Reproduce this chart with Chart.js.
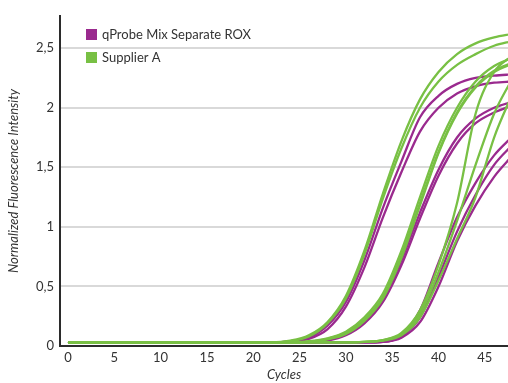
<!DOCTYPE html>
<html>
<head>
<meta charset="utf-8">
<script src="https://cdn.jsdelivr.net/npm/chart.js@4"></script>
<style>
  html, body { margin: 0; padding: 0; background: #fff; }
  #wrap { width: 508px; height: 383px; position: relative; }
</style>
</head>
<body>
<div id="wrap"><canvas id="amp-chart"></canvas></div>
<script>
const cycles = [0, 10, 20, 22, 24, 26, 28, 30, 32, 34, 36, 38, 40, 42, 44, 46, 48];

// qProbe Mix Separate ROX (purple)
const qprobeRuns = [
  [0.03, 0.03, 0.03, 0.03, 0.04, 0.07, 0.17, 0.37, 0.72, 1.16, 1.55, 1.92, 2.1, 2.2, 2.25, 2.27, 2.28],
  [0.03, 0.03, 0.03, 0.03, 0.035, 0.06, 0.14, 0.33, 0.66, 1.08, 1.46, 1.8, 2.0, 2.12, 2.18, 2.21, 2.22],
  [0.03, 0.03, 0.03, 0.03, 0.03, 0.03, 0.05, 0.1, 0.21, 0.4, 0.72, 1.12, 1.48, 1.75, 1.91, 2.0, 2.05],
  [0.03, 0.03, 0.03, 0.03, 0.03, 0.03, 0.045, 0.09, 0.19, 0.37, 0.68, 1.07, 1.43, 1.7, 1.87, 1.96, 2.02],
  [0.03, 0.03, 0.03, 0.03, 0.03, 0.03, 0.03, 0.03, 0.03, 0.035, 0.09, 0.3, 0.7, 1.08, 1.37, 1.6, 1.76],
  [0.03, 0.03, 0.03, 0.03, 0.03, 0.03, 0.03, 0.03, 0.03, 0.035, 0.08, 0.24, 0.58, 0.96, 1.27, 1.52, 1.69],
  [0.03, 0.03, 0.03, 0.03, 0.03, 0.03, 0.03, 0.03, 0.03, 0.035, 0.07, 0.2, 0.5, 0.88, 1.18, 1.42, 1.6]
];

// Supplier A (green)
const supplierRuns = [
  [0.03, 0.03, 0.03, 0.03, 0.045, 0.09, 0.2, 0.42, 0.8, 1.28, 1.72, 2.07, 2.3, 2.45, 2.54, 2.59, 2.62],
  [0.03, 0.03, 0.03, 0.03, 0.04, 0.08, 0.19, 0.4, 0.77, 1.24, 1.66, 2.0, 2.22, 2.36, 2.45, 2.52, 2.56],
  [0.03, 0.03, 0.03, 0.03, 0.03, 0.04, 0.065, 0.12, 0.24, 0.44, 0.8, 1.25, 1.68, 2.0, 2.22, 2.35, 2.42],
  [0.03, 0.03, 0.03, 0.03, 0.03, 0.035, 0.06, 0.11, 0.22, 0.41, 0.76, 1.2, 1.63, 1.96, 2.18, 2.31, 2.38],
  [0.03, 0.03, 0.03, 0.03, 0.03, 0.035, 0.055, 0.1, 0.21, 0.4, 0.74, 1.18, 1.62, 1.95, 2.17, 2.3, 2.37],
  [0.03, 0.03, 0.03, 0.03, 0.03, 0.03, 0.03, 0.03, 0.035, 0.05, 0.11, 0.3, 0.68, 1.2, 1.95, 2.3, 2.44],
  [0.03, 0.03, 0.03, 0.03, 0.03, 0.03, 0.03, 0.03, 0.035, 0.045, 0.09, 0.24, 0.55, 0.9, 1.25, 1.75, 2.12],
  [0.03, 0.03, 0.03, 0.03, 0.03, 0.03, 0.03, 0.03, 0.035, 0.05, 0.1, 0.27, 0.62, 1.05, 1.52, 1.95, 2.25]
];

const seriesNames = ["qProbe Mix Separate ROX", "Supplier A"];
const seriesColors = ["#9a2a8e", "#78c044"];
const xTicks = [0, 5, 10, 15, 20, 25, 30, 35, 40, 45];
const yTicks = [0, 0.5, 1, 1.5, 2, 2.5];

const FONT = "Lato, 'Open Sans', sans-serif";
const TEXT = "#333333";

function toPoints(values) {
  return values.map((v, i) => ({ x: cycles[i], y: v }));
}

const datasets = [];
// green first so it is drawn on top of the purple runs
supplierRuns.forEach((run) => {
  datasets.push({ label: seriesNames[1], data: toPoints(run), borderColor: seriesColors[1] });
});
qprobeRuns.forEach((run) => {
  datasets.push({ label: seriesNames[0], data: toPoints(run), borderColor: seriesColors[0] });
});

// small legend drawn inside the plot, top left
const insideLegend = {
  id: "insideLegend",
  afterDraw(chart) {
    const c = chart.ctx;
    c.save();
    c.font = "13px " + FONT;
    c.textBaseline = "middle";
    seriesNames.forEach((name, i) => {
      const y = 29 + i * 23;
      c.fillStyle = seriesColors[i];
      c.fillRect(86, y, 11, 11);
      c.fillStyle = TEXT;
      c.fillText(name, 102, y + 6);
    });
    c.restore();
  },
};

const ctx = document.getElementById("amp-chart").getContext("2d");
new Chart(ctx, {
  type: "line",
  data: { datasets: datasets },
  options: {
    responsive: true,
    maintainAspectRatio: false,
    animation: false,
    layout: { padding: { top: 16, right: 0, left: 0, bottom: 0 } },
    elements: {
      point: { radius: 0 },
      line: { borderWidth: 2.3, cubicInterpolationMode: "monotone", fill: false },
    },
    plugins: {
      legend: { display: false },
      tooltip: { enabled: false },
    },
    scales: {
      x: {
        type: "linear",
        min: -0.86,
        max: 47.5,
        afterBuildTicks: (axis) => { axis.ticks = xTicks.map((v) => ({ value: v })); },
        afterFit: (scale) => { scale.height = 37; },
        grid: { display: false, drawTicks: false },
        border: { color: "#2b2b2b", width: 2 },
        ticks: { color: TEXT, font: { family: FONT, size: 13 }, padding: 4, maxRotation: 0 },
        title: {
          display: true,
          text: "Cycles",
          color: TEXT,
          font: { family: FONT, size: 13, style: "italic" },
          padding: { top: 0, bottom: 0 },
        },
      },
      y: {
        min: 0,
        max: 2.77,
        afterBuildTicks: (axis) => { axis.ticks = yTicks.map((v) => ({ value: v })); },
        afterFit: (scale) => { scale.width = 60; },
        grid: { color: "#d9d9d9", lineWidth: 2, drawTicks: false },
        border: { color: "#2b2b2b", width: 2 },
        ticks: {
          color: TEXT,
          font: { family: FONT, size: 13 },
          padding: 6,
          callback: (v) => String(v).replace(".", ","),
        },
        title: {
          display: true,
          text: "Normalized Fluorescence Intensity",
          color: TEXT,
          font: { family: FONT, size: 13, style: "italic" },
          padding: { top: 6, bottom: 0 },
        },
      },
    },
  },
  plugins: [insideLegend],
});
</script>
</body>
</html>
